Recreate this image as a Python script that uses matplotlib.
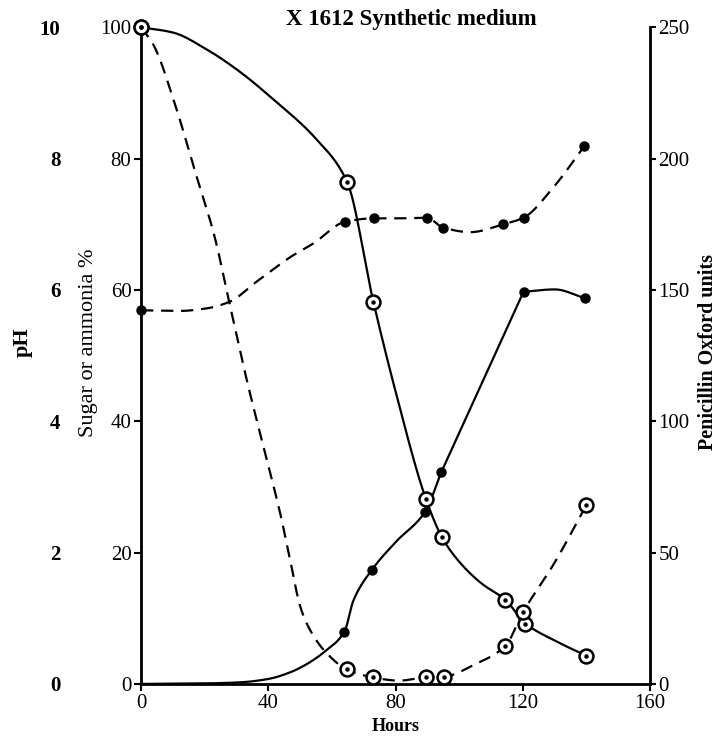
import numpy as np
import matplotlib
matplotlib.use("Agg")
import matplotlib.pyplot as plt

# sampled points (hours, value)
hours_sugar = [0, 64.7, 73.0, 89.5, 94.6, 114.5, 120.8, 139.9]
sugar = [100, 76.5, 58.2, 28.2, 22.3, 12.8, 9.2, 4.3]
hours_ammonia = [0, 64.7, 72.9, 89.5, 95.1, 114.5, 120.0, 139.9]
ammonia = [100, 2.2, 1.0, 1.0, 1.1, 5.8, 10.9, 27.2]
hours_ph = [0, 64.2, 73.1, 89.8, 94.9, 113.9, 120.2, 139.3]
ph = [5.69, 7.04, 7.09, 7.10, 6.95, 7.00, 7.10, 8.19]
hours_pen = [63.9, 72.5, 89.3, 94.3, 120.2, 139.6]
penicillin = [19.9, 43.4, 65.6, 80.5, 149.3, 146.8]

# the hand-drawn curves
sugar_curve_h = [0, 10, 20.7, 31.1, 41.6, 55, 64.7, 73, 80, 89.5, 94.6, 100, 107, 114.5, 120.8, 130, 139.9]
sugar_curve = [100, 99.2, 96.6, 93.2, 89, 83, 76.5, 58.2, 44.5, 28.2, 22.3, 18.6, 15.3, 12.8, 9.2, 6.6, 4.3]
ammonia_curve_h = [0, 3.9, 10.5, 16.8, 23.1, 27.8, 33.2, 38.4, 43.7, 47, 50, 53, 57.9, 64.7, 72.9, 81, 89.5,
                   95.1, 105, 114.5, 120.0, 130, 139.9]
ammonia_curve = [100, 97.3, 88.5, 78.3, 68.1, 57.9, 46.3, 36.2, 26, 18.5, 11.8, 8.3, 4.9, 2.2, 1.0, 0.5, 1.0,
                 1.1, 3.0, 5.8, 10.9, 18.5, 27.2]
ph_curve_h = [0, 12, 20.7, 27.8, 36.4, 46.9, 54.2, 64.2, 73.1, 81.4, 89.8, 94.9, 103.5, 113.9, 120.2, 129.7, 139.3]
ph_curve = [5.69, 5.68, 5.72, 5.82, 6.13, 6.5, 6.71, 7.04, 7.09, 7.09, 7.10, 6.95, 6.88, 7.00, 7.10, 7.57, 8.19]
# penicillin: curved rise, straight run 94.3-120.2, then a gentle arch
pen_rise_h = [0, 20, 31, 40, 47, 52, 57.9, 63.9, 66.8, 72.5, 80, 89.3, 94.3]
pen_rise = [0, 0.2, 0.6, 1.9, 4.5, 7.5, 12.5, 19.9, 32, 43.4, 54, 65.6, 80.5]
pen_top_h = [120.2, 130, 139.6]
pen_top = [149.3, 150.2, 146.8]


def smooth(x, y, n=400):
    # monotone cubic hermite through the traced points
    x = np.asarray(x, float)
    y = np.asarray(y, float)
    h = np.diff(x)
    d = np.diff(y) / h
    m = np.zeros_like(y)
    for k in range(1, len(x) - 1):
        if d[k - 1] * d[k] > 0:
            w1 = 2 * h[k] + h[k - 1]
            w2 = h[k] + 2 * h[k - 1]
            m[k] = (w1 + w2) / (w1 / d[k - 1] + w2 / d[k])
    m[0] = d[0]
    m[-1] = d[-1]
    xs = np.linspace(x[0], x[-1], n)
    i = np.clip(np.searchsorted(x, xs) - 1, 0, len(h) - 1)
    t = (xs - x[i]) / h[i]
    ys = ((2 * t**3 - 3 * t**2 + 1) * y[i] + (t**3 - 2 * t**2 + t) * h[i] * m[i]
          + (-2 * t**3 + 3 * t**2) * y[i + 1] + (t**3 - t**2) * h[i] * m[i + 1])
    return xs, ys


plt.rcParams['font.family'] = ['Liberation Serif', 'DejaVu Serif']

fig = plt.figure(figsize=(7.2, 7.37), dpi=100)
ax = fig.add_axes([0.196, 0.072, 0.707, 0.891])
ax.set_xlim(0, 160)
ax.set_ylim(0, 100)

axph = ax.twinx()
axph.set_ylim(0, 10)
axpen = ax.twinx()
axpen.set_ylim(0, 250)

lw = 1.6
dash = (0, (5.5, 3.5))

# sugar: solid, open circles
xs, ys = smooth(sugar_curve_h, sugar_curve)
ax.plot(xs, ys, color='black', lw=lw, clip_on=False, zorder=3)
# ammonia: dashed, open circles
xs, ys = smooth(ammonia_curve_h, ammonia_curve)
ax.plot(xs, ys, color='black', lw=lw, ls=dash, clip_on=False, zorder=3)
# pH: dashed, filled dots
xs, ys = smooth(ph_curve_h, ph_curve)
axph.plot(xs, ys, color='black', lw=lw, ls=dash, zorder=3)
axph.plot(hours_ph, ph, 'o', color='black', ms=6.5, clip_on=False, zorder=4)
# penicillin: solid, filled dots
xs, ys = smooth(pen_rise_h, pen_rise)
axpen.plot(xs, ys, color='black', lw=lw, zorder=3)
axpen.plot([pen_rise_h[-1], pen_top_h[0]], [pen_rise[-1], pen_top[0]], color='black', lw=lw, zorder=3)
xs, ys = smooth(pen_top_h, pen_top)
axpen.plot(xs, ys, color='black', lw=lw, zorder=3)
axpen.plot(hours_pen, penicillin, 'o', color='black', ms=6.5, clip_on=False, zorder=4)

for hx, vy in [(hours_sugar, sugar), (hours_ammonia, ammonia)]:
    axpen.plot(hx, np.array(vy) * 2.5, 'o', mfc='white', mec='black', mew=1.8, ms=10,
               clip_on=False, zorder=5)
    axpen.plot(hx, np.array(vy) * 2.5, 'o', color='black', ms=2.2, clip_on=False, zorder=6)

# spines and ticks
for a in (ax, axph, axpen):
    a.spines['top'].set_visible(False)
ax.spines['right'].set_visible(False)
for s in ('left', 'bottom'):
    ax.spines[s].set_linewidth(2)
ax.set_xticks([0, 40, 80, 120, 160])
ax.set_yticks([0, 20, 40, 60, 80, 100])
ax.tick_params(axis='both', direction='out', length=5, width=1.5, labelsize=15, pad=2)

for s in ('left', 'right', 'bottom'):
    axph.spines[s].set_visible(False)
axph.yaxis.set_ticks_position('left')
axph.yaxis.set_label_position('left')
axph.spines['left'].set_position(('outward', 46))
axph.set_yticks([0, 2, 4, 6, 8, 10])
axph.tick_params(axis='y', length=0, labelsize=15, pad=12)
for lab in axph.get_yticklabels():
    lab.set_fontweight('bold')

axpen.spines['left'].set_visible(False)
axpen.spines['bottom'].set_visible(False)
axpen.spines['right'].set_linewidth(2)
axpen.set_yticks([0, 50, 100, 150, 200, 250])
axpen.tick_params(axis='y', direction='out', length=4, width=1.5, labelsize=15, pad=2)

ax.set_xlabel('Hours', fontsize=13, fontweight='bold', labelpad=4)
ax.set_ylabel('Sugar or ammonia %', fontsize=16)
ax.yaxis.set_label_coords(-0.085, 0.52)
axph.set_ylabel('pH', fontsize=16, fontweight='bold')
axph.yaxis.set_label_coords(-0.212, 0.52)
axpen.set_ylabel('Penicillin Oxford units', fontsize=14.5, fontweight='bold')
axpen.yaxis.set_label_coords(1.094, 0.505)

fig.text(0.571, 0.974, 'X 1612 Synthetic medium', fontsize=16.5, fontweight='bold',
         ha='center', va='center')

fig.savefig('out.png', dpi=100)
